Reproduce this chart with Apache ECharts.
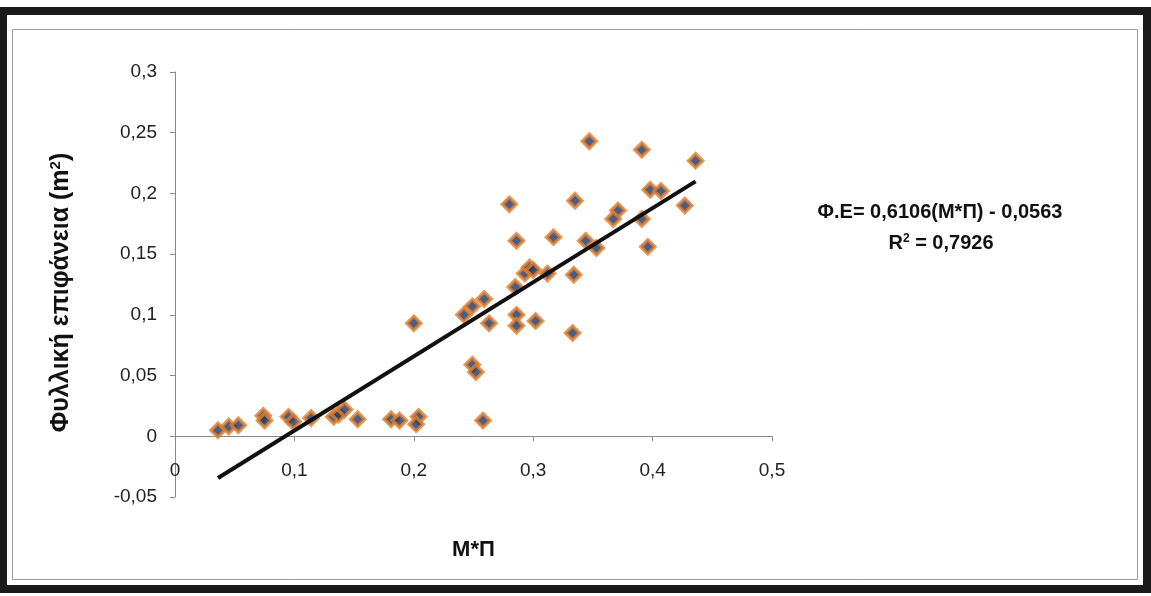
<!DOCTYPE html>
<html>
<head>
<meta charset="utf-8">
<script src="https://cdn.jsdelivr.net/npm/echarts@6/dist/echarts.min.js"></script>
<style>
html,body{margin:0;padding:0;background:#ffffff;}
#c{width:1151px;height:596px;}
</style>
</head>
<body>
<div id="c"></div>
<script>
// Data
var xValues = [0.036,0.045,0.053,0.074,0.075,0.095,0.099,0.114,0.133,0.137,0.142,0.153,0.181,0.188,0.204,0.202,0.200,0.242,0.249,0.259,0.263,0.286,0.286,0.302,0.333,0.249,0.252,0.258,0.347,0.391,0.436,0.280,0.335,0.398,0.407,0.371,0.367,0.391,0.427,0.286,0.317,0.344,0.353,0.396,0.293,0.297,0.300,0.312,0.334,0.285];
var yValues = [0.005,0.008,0.009,0.017,0.013,0.016,0.012,0.015,0.016,0.018,0.022,0.014,0.014,0.013,0.016,0.010,0.093,0.100,0.107,0.113,0.093,0.100,0.091,0.095,0.085,0.059,0.053,0.013,0.243,0.236,0.227,0.191,0.194,0.203,0.202,0.186,0.179,0.179,0.190,0.161,0.164,0.161,0.155,0.156,0.134,0.139,0.137,0.134,0.133,0.123];
var slope = 0.6106;
var intercept = -0.0563;
var rSquared = '0,7926';
var yTicks = [-0.05, 0.3, 0.05];   // min, max, interval
var xTicks = [0, 0.5, 0.1];

var points = xValues.map(function(x, i){ return [x, yValues[i]]; });
var xMin = Math.min.apply(null, xValues), xMax = Math.max.apply(null, xValues);
var trend = [[xMin, slope * xMin + intercept], [xMax, slope * xMax + intercept]];

function fmt(v){ return String(Math.round(v * 1000) / 1000).replace('.', ','); }

var FONT = 'Liberation Sans, Arial, sans-serif';
var gridTop = 72, gridBottomPx = 497;
// pixel offset of the zero line above the grid bottom, computed from the y range
var zeroOffset = (gridBottomPx - gridTop) * (0 - yTicks[0]) / (yTicks[1] - yTicks[0]);

var chart = echarts.init(document.getElementById('c'), null, {renderer: 'canvas'});
chart.setOption({
  backgroundColor: '#ffffff',
  animation: false,
  textStyle: {fontFamily: FONT},
  grid: {left: 175, right: 379, top: gridTop, bottom: 596 - gridBottomPx, containLabel: false, outerBoundsMode: 'none'},
  xAxis: {
    type: 'value', min: xTicks[0], max: xTicks[1], interval: xTicks[2],
    position: 'bottom', offset: -zeroOffset,
    axisLine: {onZero: false, lineStyle: {color: '#8a8a8a', width: 1}},
    axisTick: {show: true, inside: false, length: 5, lineStyle: {color: '#8a8a8a'}},
    splitLine: {show: false},
    axisLabel: {margin: 25, fontSize: 19, color: '#222', formatter: fmt},
    name: 'M*Π', nameLocation: 'middle', nameGap: 103,
    nameTextStyle: {fontSize: 22, fontWeight: 'bold', color: '#111'}
  },
  yAxis: {
    type: 'value', min: yTicks[0], max: yTicks[1], interval: yTicks[2],
    axisLine: {show: true, onZero: false, lineStyle: {color: '#8a8a8a', width: 1}},
    axisTick: {show: true, inside: false, length: 5, lineStyle: {color: '#8a8a8a'}},
    splitLine: {show: false},
    axisLabel: {margin: 18, fontSize: 19, color: '#222', formatter: fmt},
    name: '{t|Φυλλική επιφάνεια (m}{s|2}{t|)}', nameLocation: 'middle', nameGap: 100, nameRotate: 90,
    nameTextStyle: {
      padding: [0, 16, 0, 0],
      rich: {
        t: {fontSize: 25, fontWeight: 'bold', color: '#111', fontFamily: FONT},
        s: {fontSize: 15, fontWeight: 'bold', color: '#111', verticalAlign: 'top', padding: [0,0,12,0], fontFamily: FONT}
      }
    }
  },
  series: [
    {
      type: 'scatter', data: points, symbol: 'diamond', symbolSize: 14,
      itemStyle: {color: '#1d3563', borderColor: '#e0802e', borderWidth: 3.5},
      z: 3
    },
    {
      type: 'line', data: trend, symbol: 'none', lineStyle: {color: '#111', width: 4}, z: 4, silent: true
    }
  ],
  graphic: [
    {type: 'rect', shape: {x: 3, y: 11, width: 1144, height: 578}, style: {fill: 'none', stroke: '#1a1a1a', lineWidth: 8}, silent: true},
    {type: 'rect', shape: {x: 12.5, y: 29.5, width: 1125, height: 550}, style: {fill: 'none', stroke: '#9a9a9a', lineWidth: 1}, silent: true},
    {type: 'text', x: 940, y: 212, style: {text: 'Φ.Ε= 0,6106(M*Π) - 0,0563', fontSize: 20, fontWeight: 'bold', fill: '#111', fontFamily: FONT, align: 'center', verticalAlign: 'middle'}},
    {type: 'text', x: 941, y: 243, style: {
      text: '{t|R}{s|2}{t| = ' + rSquared + '}', align: 'center', verticalAlign: 'middle',
      rich: {
        t: {fontSize: 20, fontWeight: 'bold', fill: '#111', fontFamily: FONT},
        s: {fontSize: 12, fontWeight: 'bold', fill: '#111', verticalAlign: 'top', fontFamily: FONT}
      }}}
  ]
});
</script>
</body>
</html>
